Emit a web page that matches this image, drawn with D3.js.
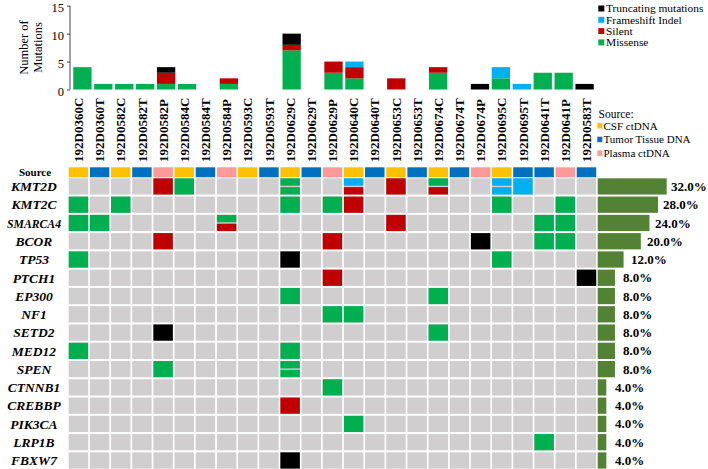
<!DOCTYPE html>
<html><head><meta charset="utf-8">
<script src="https://cdn.jsdelivr.net/npm/d3@7"></script>
<style>body{margin:0;background:#fff}svg{display:block}</style>
</head><body><svg id="c" width="708" height="469"></svg>
<script>
const samples = ["192D0360C","192D0360T","192D0582C","192D0582T","192D0582P","192D0584C","192D0584T","192D0584P","192D0593C","192D0593T","192D0629C","192D0629T","192D0629P","192D0640C","192D0640T","192D0653C","192D0653T","192D0674C","192D0674T","192D0674P","192D0695C","192D0695T","192D0641T","192D0641P","192D0583T"];
const sources = ["CSF ctDNA","Tumor Tissue DNA","CSF ctDNA","Tumor Tissue DNA","Plasma ctDNA","CSF ctDNA","Tumor Tissue DNA","Plasma ctDNA","CSF ctDNA","Tumor Tissue DNA","CSF ctDNA","Tumor Tissue DNA","Plasma ctDNA","CSF ctDNA","Tumor Tissue DNA","CSF ctDNA","Tumor Tissue DNA","CSF ctDNA","Tumor Tissue DNA","Plasma ctDNA","CSF ctDNA","Tumor Tissue DNA","Tumor Tissue DNA","Plasma ctDNA","Tumor Tissue DNA"];
const sourceTypes = ["CSF ctDNA","Tumor Tissue DNA","Plasma ctDNA"];
const mutationTypes = ["Missense","Silent","Frameshift Indel","Truncating mutations"];
const missense   = [4,1,1,1,1,1,0,1,0,0,7,0,3,2,0,0,0,3,0,0,2,0,3,3,0];
const silent     = [0,0,0,0,2,0,0,1,0,0,1,0,2,2,0,2,0,1,0,0,0,0,0,0,0];
const frameshift = [0,0,0,0,0,0,0,0,0,0,0,0,0,1,0,0,0,0,0,0,2,1,0,0,0];
const truncating = [0,0,0,0,1,0,0,0,0,0,2,0,0,0,0,0,0,0,0,1,0,0,0,0,1];
const yTicks = [0,5,10,15];
const genes = ["KMT2D","KMT2C","SMARCA4","BCOR","TP53","PTCH1","EP300","NF1","SETD2","MED12","SPEN","CTNNB1","CREBBP","PIK3CA","LRP1B","FBXW7"];
const genePercent = [32,28,24,20,12,8,8,8,8,8,8,4,4,4,4,4];
const gridMutations = [
 ["KMT2D","192D0582P",["Silent"]],
 ["KMT2D","192D0584C",["Missense"]],
 ["KMT2D","192D0629C",["Missense","Missense"]],
 ["KMT2D","192D0640C",["Frameshift Indel","Silent"]],
 ["KMT2D","192D0653C",["Silent"]],
 ["KMT2D","192D0674C",["Missense","Silent"]],
 ["KMT2D","192D0695C",["Frameshift Indel","Frameshift Indel"]],
 ["KMT2D","192D0695T",["Frameshift Indel"]],
 ["KMT2C","192D0360C",["Missense"]],
 ["KMT2C","192D0582C",["Missense"]],
 ["KMT2C","192D0629C",["Missense"]],
 ["KMT2C","192D0629P",["Missense"]],
 ["KMT2C","192D0640C",["Silent"]],
 ["KMT2C","192D0695C",["Missense"]],
 ["KMT2C","192D0641P",["Missense"]],
 ["SMARCA4","192D0360C",["Missense"]],
 ["SMARCA4","192D0360T",["Missense"]],
 ["SMARCA4","192D0584P",["Missense","Silent"]],
 ["SMARCA4","192D0653C",["Silent"]],
 ["SMARCA4","192D0641T",["Missense"]],
 ["SMARCA4","192D0641P",["Missense"]],
 ["BCOR","192D0582P",["Silent"]],
 ["BCOR","192D0629P",["Silent"]],
 ["BCOR","192D0674P",["Truncating mutations"]],
 ["BCOR","192D0641T",["Missense"]],
 ["BCOR","192D0641P",["Missense"]],
 ["TP53","192D0360C",["Missense"]],
 ["TP53","192D0629C",["Truncating mutations"]],
 ["TP53","192D0695C",["Missense"]],
 ["PTCH1","192D0629P",["Silent"]],
 ["PTCH1","192D0583T",["Truncating mutations"]],
 ["EP300","192D0629C",["Missense"]],
 ["EP300","192D0674C",["Missense"]],
 ["NF1","192D0629P",["Missense"]],
 ["NF1","192D0640C",["Missense"]],
 ["SETD2","192D0582P",["Truncating mutations"]],
 ["SETD2","192D0674C",["Missense"]],
 ["MED12","192D0360C",["Missense"]],
 ["MED12","192D0629C",["Missense"]],
 ["SPEN","192D0582P",["Missense"]],
 ["SPEN","192D0629C",["Missense","Missense"]],
 ["CTNNB1","192D0629P",["Missense"]],
 ["CREBBP","192D0629C",["Silent"]],
 ["PIK3CA","192D0640C",["Missense"]],
 ["LRP1B","192D0641T",["Missense"]],
 ["FBXW7","192D0629C",["Truncating mutations"]]
];

const FONT = "'Liberation Serif', 'Times New Roman', serif";
const typeColor = d3.scaleOrdinal().domain(mutationTypes).range(["#00B050","#C00000","#00B0F0","#000000"]);
const srcColor = d3.scaleOrdinal().domain(sourceTypes).range(["#FFC000","#0070C0","#FF9999"]);
const svg = d3.select("#c");

// ---- top stacked bar chart ----
const table = samples.map((s,i)=>({sample:s,"Missense":missense[i],"Silent":silent[i],"Frameshift Indel":frameshift[i],"Truncating mutations":truncating[i]}));
const stack = d3.stack().keys(mutationTypes)(table);
const xb = d3.scaleBand().domain(samples).range([72,595]).paddingInner(0.125).paddingOuter(0.06);
const yb = d3.scaleLinear().domain([0,15]).range([89.5,5.7]);
svg.append("g").selectAll("g").data(stack).join("g").attr("fill",d=>typeColor(d.key))
  .selectAll("rect").data(d=>d).join("rect")
  .attr("x",d=>xb(d.data.sample)).attr("width",xb.bandwidth())
  .attr("y",d=>yb(d[1])).attr("height",d=>yb(d[0])-yb(d[1]));
const yAxis = svg.append("g").attr("transform","translate(70,0)")
  .call(d3.axisLeft(yb).tickValues(yTicks).tickSize(3).tickPadding(3));
yAxis.selectAll("text").style("font-size","12.5px").attr("dy","0.45em").attr("fill","#000");
yAxis.selectAll("line,path").attr("stroke","#444");
yAxis.select("path").attr("d","M0,89.5V5.7");
const yl = svg.append("text").attr("transform","translate(0,47.5) rotate(-90)").attr("text-anchor","middle").style("font-size","12.5px");
yl.append("tspan").attr("x",0).attr("y",28).text("Number of");
yl.append("tspan").attr("x",0).attr("y",42).text("Mutations");

// legend (mutation types)
const legTypes = mutationTypes.slice().reverse();
const lg = svg.append("g");
legTypes.forEach((t,i)=>{
  lg.append("rect").attr("x",598.3).attr("y",5.5+i*11.3).attr("width",6).attr("height",6).attr("fill",typeColor(t));
  lg.append("text").attr("x",606).attr("y",8.5+i*11.3).attr("dy","0.35em").style("font-size","11.4px").text(t);
});

// ---- grid ----
const xg = d3.scaleBand().domain(samples).range([68.7,596.2]).paddingInner(0.08);
const yg = d3.scaleBand().domain(genes).range([178.3,468.6]).paddingInner(0.11).paddingOuter(0);

// sample labels
svg.append("g").selectAll("text").data(samples).join("text")
  .attr("transform",d=>`translate(${xg(d)+xg.bandwidth()/2+4.6},162) rotate(-90)`)
  .style("font-size","13px").style("font-weight","bold").text(d=>d);

// source legend
const sl = svg.append("g");
sl.append("text").attr("x",598.5).attr("y",114).attr("dy","0.35em").style("font-size","11.5px").text("Source:");
sourceTypes.forEach((t,i)=>{
  sl.append("rect").attr("x",597.3).attr("y",123+i*13.7).attr("width",5).attr("height",5.5).attr("fill",srcColor(t));
  sl.append("text").attr("x",603.5).attr("y",125.8+i*13.7).attr("dy","0.35em").style("font-size","11px").text(t);
});

// source row
svg.append("text").attr("x",35).attr("y",172.3).attr("dy","0.35em").attr("text-anchor","middle")
  .style("font-size","11px").style("font-weight","bold").text("Source");
svg.append("g").selectAll("rect").data(samples).join("rect")
  .attr("x",d=>xg(d)).attr("width",xg.bandwidth()).attr("y",167.3).attr("height",10)
  .attr("fill",(d,i)=>srcColor(sources[i]));

// background cells
const cells = [];
genes.forEach(g=>samples.forEach(s=>cells.push({g,s})));
svg.append("g").selectAll("rect").data(cells).join("rect")
  .attr("x",d=>xg(d.s)).attr("y",d=>yg(d.g)).attr("width",xg.bandwidth()).attr("height",yg.bandwidth())
  .attr("fill","#D0CECE");

// mutation cells
const parts = [];
gridMutations.forEach(([g,s,types])=>{
  const n = types.length;
  types.forEach((t,k)=>parts.push({g,s,t,k,n}));
});
const gap = 1.4;
svg.append("g").selectAll("rect").data(parts).join("rect")
  .attr("x",d=>xg(d.s)).attr("width",xg.bandwidth())
  .attr("y",d=>{const h=(yg.bandwidth()-gap*(d.n-1))/d.n; return yg(d.g)+d.k*(h+gap);})
  .attr("height",d=>(yg.bandwidth()-gap*(d.n-1))/d.n)
  .attr("fill",d=>typeColor(d.t));

// gene labels
const geneText = svg.append("g").selectAll("text").data(genes).join("text")
  .attr("x",34).attr("y",d=>yg(d)+yg.bandwidth()/2).attr("dy","0.35em").attr("text-anchor","middle")
  .style("font-size","13.5px").style("font-weight","bold").style("font-style","italic").text(d=>d);

// percent bars
const xp = d3.scaleLinear().domain([0,32]).range([597.7,666.7]);
const xlab = d3.scaleLinear().domain([4,32]).range([615,671]);
svg.append("g").selectAll("rect").data(genes).join("rect")
  .attr("x",xp(0)).attr("y",d=>yg(d)).attr("height",yg.bandwidth())
  .attr("width",(d,i)=>xp(genePercent[i])-xp(0)).attr("fill","#548235");
svg.append("g").selectAll("text").data(genes).join("text")
  .attr("x",(d,i)=>xlab(genePercent[i])).attr("y",d=>yg(d)+yg.bandwidth()/2).attr("dy","0.35em")
  .style("font-size","13px").style("font-weight","bold").text((d,i)=>genePercent[i].toFixed(1)+"%");

// apply serif font everywhere
svg.selectAll("text").style("font-family",FONT).style("fill","#000");
geneText.each(function(){const w=this.getComputedTextLength(); if(w>54){d3.select(this).attr("textLength",54).attr("lengthAdjust","spacingAndGlyphs");}});
</script></body></html>
